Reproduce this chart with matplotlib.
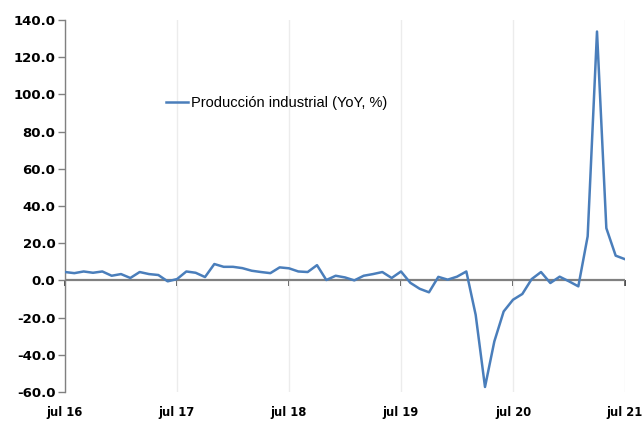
import matplotlib
matplotlib.use("Agg")
import matplotlib.pyplot as plt
import numpy as np

# Monthly data, jul 2016 .. jul 2021
values = [
    4.5, 3.9, 4.8, 4.1, 4.8, 2.5,          # jul-dic 16
    3.4, 1.3, 4.5, 3.4, 2.9, -0.5,         # ene-jun 17
    0.7, 4.8, 4.1, 1.8, 8.8, 7.3,          # jul-dic 17
    7.3, 6.6, 5.2, 4.5, 3.9, 7.0,          # ene-jun 18
    6.5, 4.8, 4.5, 8.2, 0.2, 2.5,          # jul-dic 18
    1.6, 0.0, 2.5, 3.4, 4.5, 1.3,          # ene-jun 19
    4.8, -1.3, -4.5, -6.4, 1.9, 0.4,       # jul-dic 19
    2.0, 4.8, -18.5, -57.3, -32.8, -16.7,  # ene-jun 20
    -10.4, -7.3, 0.7, 4.5, -1.4, 2.0,      # jul-dic 20
    -0.5, -3.2, 23.7, 133.8, 28.1, 13.3,   # ene-jun 21
    11.4,                                  # jul 21
]
series_label = "Producción industrial (YoY, %)"
xtick_labels = ["jul 16", "jul 17", "jul 18", "jul 19", "jul 20", "jul 21"]
ytick_values = [-60, -40, -20, 0, 20, 40, 60, 80, 100, 120, 140]

x = np.arange(len(values))
xticks = np.arange(0, len(values), 12)

fig = plt.figure(figsize=(6.44, 4.21), dpi=100)
ax = fig.add_axes([65/644, 1-392/421, (625-65)/644, (392-20)/421])

ax.plot(x, values, color="#4a7ebb", lw=1.8, label=series_label, zorder=3)

ax.set_xlim(0, len(values) - 1)
ax.set_ylim(-60, 140)
ax.set_yticks(ytick_values)
ax.set_yticklabels([f"{v:.1f}" for v in ytick_values],
                   fontfamily="DejaVu Sans", fontweight="bold", fontsize=9.5)
ax.set_xticks(xticks)
ax.set_xticklabels(xtick_labels, fontfamily="DejaVu Sans",
                   fontweight="bold", fontsize=8.3)
ax.tick_params(axis="x", length=0, pad=10)
ax.tick_params(axis="y", length=5, width=1, color="#808080", pad=2)

ax.grid(axis="x", color="#ececec", lw=1)
ax.set_axisbelow(True)
for s in ["top", "right", "bottom"]:
    ax.spines[s].set_visible(False)
ax.spines["left"].set_color("#808080")
ax.spines["left"].set_linewidth(1)

# zero axis line with ticks
ax.axhline(0, color="#808080", lw=1.6, zorder=2)
sec = ax.secondary_xaxis(0.3)
sec.set_xticks(xticks)
sec.set_xticklabels([])
sec.spines["bottom"].set_visible(False)
sec.tick_params(length=4, width=1.3, color="#404040", direction="out")

leg = ax.legend(loc="upper left", bbox_to_anchor=(95/560, 1-(103-20)/372 + 0.035),
                frameon=False, handlelength=1.5, handletextpad=0.2,
                prop={"family": "Liberation Sans", "size": 10.5}, borderaxespad=0)

fig.savefig("out.png", dpi=100)
